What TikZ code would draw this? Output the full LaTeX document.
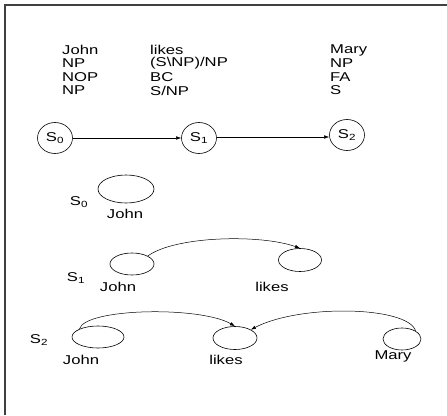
\documentclass[tikz,border=0pt]{standalone}
\usepackage{fontspec}
\setmainfont{Liberation Sans}[FakeStretch=1.3]
\usetikzlibrary{shapes.geometric,arrows.meta}
\begin{document}
\begin{tikzpicture}[x=1pt,y=-1pt,
  every node/.style={font=\fontsize{12.8}{13.5}\selectfont},
  word/.style={anchor=west,inner sep=0pt},
  lab/.style={inner sep=0pt},
  state/.style={draw,ellipse,inner sep=0pt,line width=0.6pt},
  conn/.style={line width=0.5pt,-{Latex[length=5pt,width=3.5pt]}},
  frameline/.style={line width=1.3pt,draw=black!75}
]
\useasboundingbox (0,0) rectangle (447,415);
\coordinate (tl) at (5,5);
\coordinate (tr) at (447,5);
\coordinate (bl) at (5,415);
\draw[frameline] (tr) -- (tl) -- (bl);

% top table
\node[word] (w1) at (62,50) {John};
\node[word] (w2) at (62,63.5) {NP};
\node[word] (w3) at (62,77) {NOP};
\node[word] (w4) at (62,90.5) {NP};
\node[word] (l1) at (150,50) {likes};
\node[word] (l2) at (150,63.5) {(S\textbackslash NP)/NP};
\node[word] (l3) at (150,77) {BC};
\node[word] (l4) at (150,90.5) {S/NP};
\node[word] (m1) at (330,50) {Mary};
\node[word] (m2) at (330,63.5) {NP};
\node[word] (m3) at (330,77) {FA};
\node[word] (m4) at (330,90.5) {S};

\node[state,minimum width=35pt,minimum height=31pt] (s0) at (55,138) {S\textsubscript{0}};
\node[state,minimum width=35pt,minimum height=31pt] (s1) at (199,138) {S\textsubscript{1}};
\node[state,minimum width=35pt,minimum height=31pt] (s2) at (347,135) {S\textsubscript{2}};
\draw[conn] (s0) -- (s0 -| s1.west);
\draw[conn] (s1.east |- 0,137) -- (s2.west |- 0,137);

% S0 row
\node[lab] (t0) at (79,202) {S\textsubscript{0}};
\node[state,minimum width=56pt,minimum height=28pt] (e0) at (126,189) {};
\node[lab] (e0w) at (125,214) {John};

% S1 row
\node[lab] (t1) at (76,278) {S\textsubscript{1}};
\node[state,minimum width=44pt,minimum height=22pt] (e1j) at (132,264) {};
\node[state,minimum width=43pt,minimum height=23pt] (e1l) at (300,260) {};
\node[lab] (e1jw) at (118,287) {John};
\node[lab] (e1lw) at (272,287) {likes};
\draw[conn] (e1j.north east) .. controls (175,236) and (260,234) .. (e1l.north);

% S2 row
\node[lab] (t2) at (39,340) {S\textsubscript{2}};
\node[state,minimum width=52pt,minimum height=22pt] (e2j) at (98,337) {};
\node[state,minimum width=44pt,minimum height=23pt] (e2l) at (235,338) {};
\node[state,minimum width=38pt,minimum height=22pt] (e2m) at (402,339) {};
\node[lab] (e2jw) at (81,360) {John};
\node[lab] (e2lw) at (226,360) {likes};
\node[lab] (e2mw) at (393,356) {Mary};
\draw[conn] (e2j.north west) .. controls (85,308) and (200,306) .. (e2l.north);
\draw[conn] (e2m.north east) .. controls (408,306) and (300,304) .. (e2l.north east);
\end{tikzpicture}
\end{document}
